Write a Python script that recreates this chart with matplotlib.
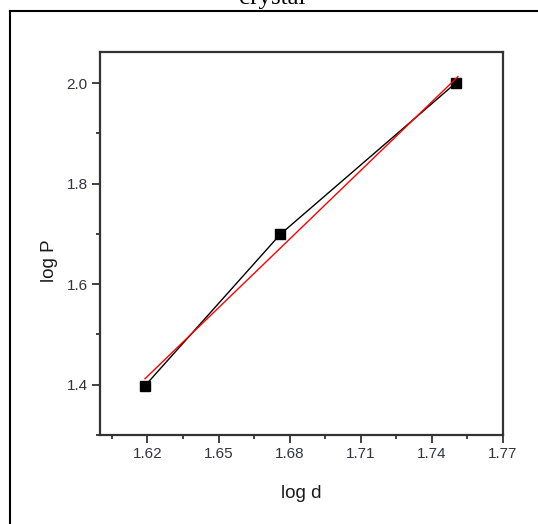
import matplotlib
matplotlib.use("Agg")
import matplotlib.pyplot as plt
from matplotlib.lines import Line2D
from matplotlib.ticker import MultipleLocator

# measured points (log d, log P)
log_d = [1.619, 1.676, 1.750]
log_p = [1.398, 1.699, 2.000]

# end points of the linear fit
fit_d = [1.619, 1.751]
fit_p = [1.412, 2.013]

x_ticks = [1.62, 1.65, 1.68, 1.71, 1.74, 1.77]
x_tick_labels = ["1.62", "1.65", "1.68", "1.71", "1.74", "1.77"]
y_ticks = [1.4, 1.6, 1.8, 2.0]
y_tick_labels = ["1.4", "1.6", "1.8", "2.0"]

W, H = 538, 524
fig = plt.figure(figsize=(W / 100, H / 100), dpi=100)
fig.patch.set_facecolor("white")

# frame around the panel (only top and left edges fall inside the image)
fig.add_artist(Line2D([10 / W, 10 / W], [0, 1 - 11 / H], transform=fig.transFigure,
                      color="black", lw=1.5))
fig.add_artist(Line2D([10 / W, 1], [1 - 11 / H, 1 - 11 / H], transform=fig.transFigure,
                      color="black", lw=1.5))

fig.text(272 / W, 1 - 4 / H, "crystal", family="Liberation Serif", fontsize=18,
         ha="center", va="baseline", color="black")

ax = fig.add_axes([100 / W, 1 - 435 / H, 403 / W, 383.5 / H])

ax.plot(log_d, log_p, color="black", lw=1.0, marker="s", markersize=6.5,
        markerfacecolor="black", markeredgecolor="black", zorder=3)
ax.plot(fit_d, fit_p, color="red", lw=1.0, zorder=4)

ax.set_xlim(1.60, 1.77)
ax.set_ylim(1.30, 2.063)

ax.set_xticks(x_ticks)
ax.set_xticklabels(x_tick_labels)
ax.set_yticks(y_ticks)
ax.set_yticklabels(y_tick_labels)
ax.xaxis.set_minor_locator(MultipleLocator(0.015))
ax.yaxis.set_minor_locator(MultipleLocator(0.1))

for s in ["top", "right", "left", "bottom"]:
    ax.spines[s].set_linewidth(1.6)
    ax.spines[s].set_color("#333333")

ax.tick_params(which="major", direction="out", length=6, width=1.3, color="#333333",
               labelsize=11, labelcolor="#33333f", pad=3)
ax.tick_params(which="minor", direction="out", length=3, width=1.3, color="#333333")
ax.tick_params(top=False, right=False, which="both")
for lab in ax.get_xticklabels() + ax.get_yticklabels():
    lab.set_family("Liberation Sans")

ax.set_xlabel("log d", family="Liberation Sans", fontsize=13.5, color="#1a1a1a")
ax.set_ylabel("log P", family="Liberation Sans", fontsize=13.5, color="#1a1a1a")
ax.xaxis.set_label_coords(0.5, -(493 - 435) / 383.5)
ax.yaxis.set_label_coords(-50 / 403, 0.454)
ax.xaxis.label.set_va("center")
ax.yaxis.label.set_va("center")

fig.savefig("out.png", dpi=100)
